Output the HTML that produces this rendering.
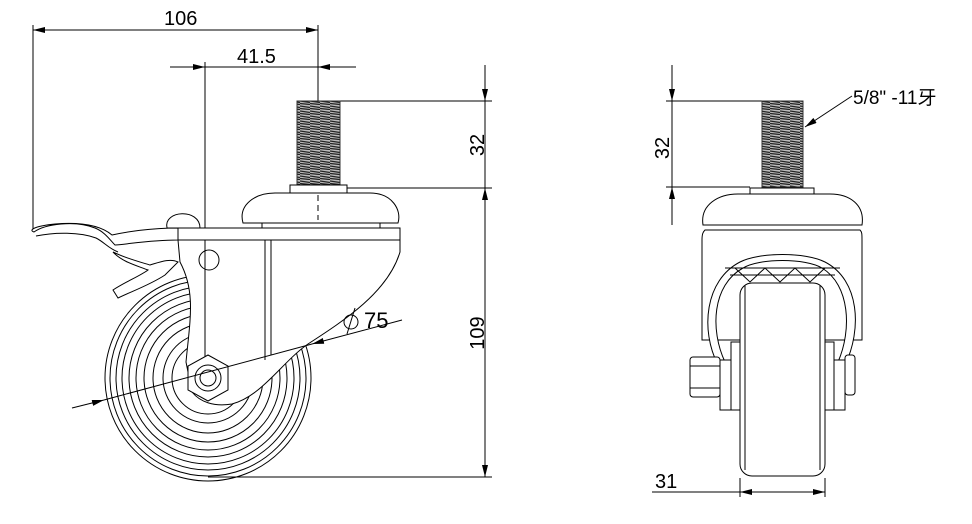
<!DOCTYPE html>
<html><head><meta charset="utf-8"><style>
html,body{margin:0;padding:0;background:#fff;width:972px;height:524px;overflow:hidden}
svg{display:block}
text{font-family:"Liberation Sans","Noto Sans CJK SC",sans-serif;fill:#000}
</style></head><body>
<svg width="972" height="524" viewBox="0 0 972 524" xmlns="http://www.w3.org/2000/svg">
<defs>
<marker id="a" viewBox="0 0 12 6" refX="12" refY="3" markerWidth="12" markerHeight="6" orient="auto-start-reverse" markerUnits="userSpaceOnUse"><path d="M0 0L12 3L0 6Z" fill="#000"/></marker>
<pattern id="thr" width="10" height="5" patternUnits="userSpaceOnUse"><rect width="10" height="5" fill="#bbb"/><path d="M0 1L10 2.5M0 3.5L10 4.5" stroke="#222" stroke-width="1.3"/></pattern>
</defs>
<g fill="none" stroke="#000" stroke-width="1">
<!-- dimension 106 -->
<line x1="33" y1="30" x2="318" y2="30" marker-start="url(#a)" marker-end="url(#a)"/>
<line x1="33" y1="25" x2="33" y2="230"/>
<line x1="318" y1="25" x2="318" y2="220" />
<!-- 41.5 -->
<line x1="170" y1="67" x2="205" y2="67" marker-end="url(#a)"/>
<line x1="205" y1="67" x2="318" y2="67"/>
<line x1="356" y1="67" x2="318" y2="67" marker-end="url(#a)"/>
<line x1="205" y1="62" x2="205" y2="378"/>
<!-- 32 left -->
<line x1="318" y1="101" x2="492" y2="101"/>
<line x1="342" y1="188" x2="492" y2="188"/>
<line x1="485" y1="65" x2="485" y2="101" marker-end="url(#a)"/>
<line x1="485" y1="101" x2="485" y2="188"/>
<line x1="485" y1="188" x2="485" y2="477" marker-start="url(#a)" marker-end="url(#a)"/>
<line x1="208" y1="477" x2="492" y2="477"/>
<!-- wheel left -->
<g stroke-width="1">
<circle cx="208" cy="378" r="103"/><circle cx="208" cy="378" r="98"/><circle cx="208" cy="378" r="92"/>
<circle cx="208" cy="378" r="86"/><circle cx="208" cy="378" r="79"/><circle cx="208" cy="378" r="72"/>
<circle cx="208" cy="378" r="64"/><circle cx="208" cy="378" r="55"/><circle cx="208" cy="378" r="45"/><circle cx="208" cy="378" r="36"/>
</g>
<!-- fork -->
<path fill="#fff" d="M178 240 L400 240 L400 252 C388 292 345 320 308 344 C282 362 262 396 232 404 C214 407 200 402 192 392 L186 362 C190 320 196 292 180 262 Z"/>
<line x1="265" y1="240" x2="265" y2="360"/><line x1="271" y1="240" x2="271" y2="355"/>
<line x1="205" y1="240" x2="205" y2="378"/>
<circle cx="209" cy="260" r="10"/>
<!-- bracket top -->
<rect x="178" y="228" width="222" height="12" fill="#fff"/>
<path fill="#fff" d="M243 223 C238 205 255 193 275 193 L370 193 C392 193 402 210 398 223 Z"/>
<path d="M262 223 L262 228 M380 223 L380 228"/>
<path fill="#fff" d="M167 228 C163 210 200 208 200 228 Z"/>
<!-- brake lever -->
<path fill="#fff" d="M34 232 C45 224 75 220 95 228 C105 232 110 240 115 245 C130 244 150 240 178 240 L178 228 C150 228 125 232 112 235 C100 225 80 222 55 224 C35 226 28 230 34 232 Z"/>
<path d="M36 236 C55 232 80 232 96 238 C104 242 108 248 118 252"/>
<path fill="#fff" d="M113 252 C125 258 140 262 150 265 C160 262 170 258 178 262 L165 275 C150 285 130 292 118 298 L113 290 C125 282 140 276 148 270 C138 266 122 262 113 252 Z"/>
<!-- hub nut -->
<polygon fill="#fff" points="208,355 228,366 228,390 208,401 188,390 188,366"/>
<circle cx="208" cy="378" r="13"/><circle cx="208" cy="378" r="8"/>
<!-- stem -->
<rect x="297" y="101" width="43" height="86" fill="url(#thr)" stroke="#333"/>
<path fill="#fff" d="M290 193 L290 185 L347 185 L347 193 Z"/>
<line x1="318" y1="195" x2="318" y2="220" stroke-dasharray="6 4"/>
<!-- phi 75 -->
<line x1="72" y1="408" x2="104" y2="400" marker-end="url(#a)"/>
<line x1="104" y1="400" x2="312" y2="344"/>
<line x1="402" y1="320" x2="312" y2="344" marker-end="url(#a)"/>
<circle cx="351" cy="322" r="7"/><line x1="347" y1="334" x2="355" y2="308"/>

<!-- RIGHT VIEW -->
<line x1="666" y1="101" x2="768" y2="101"/>
<line x1="666" y1="187" x2="750" y2="187"/>
<line x1="672" y1="65" x2="672" y2="101" marker-end="url(#a)"/>
<line x1="672" y1="101" x2="672" y2="187"/>
<line x1="672" y1="225" x2="672" y2="187" marker-end="url(#a)"/>
<rect x="762" y="101" width="41" height="86" fill="url(#thr)" stroke="#333"/>
<rect x="750" y="188" width="64" height="6" fill="#fff"/>
<path fill="#fff" d="M703 225 C700 205 718 194 738 194 L830 194 C850 194 865 205 862 225 Z"/>
<path fill="#fff" d="M705 230 L860 230 C862 232 862 234 862 240 L862 340 L702 340 L702 240 C702 234 703 232 705 230 Z"/>
<path fill="#fff" d="M718 365 C700 330 705 280 740 262 C760 252 805 252 825 262 C860 280 862 330 845 365 L838 362 C852 330 850 285 822 268 C805 258 760 258 743 268 C712 285 710 330 725 362 Z"/>
<path d="M725 268 L840 268 M730 275 L835 275"/>
<path d="M735 268 L750 282 L765 268 L780 282 L795 268 L810 282 L825 268"/>
<rect x="740" y="283" width="85" height="193" rx="12" fill="#fff"/>
<line x1="745" y1="285" x2="745" y2="470"/><line x1="820" y1="285" x2="820" y2="470"/>
<rect x="731" y="342" width="9" height="68" fill="#fff"/><rect x="825" y="342" width="9" height="68" fill="#fff"/>
<rect x="720" y="360" width="11" height="50" fill="#fff"/><rect x="834" y="360" width="11" height="50" fill="#fff"/>
<rect x="690" y="357" width="30" height="40" rx="3" fill="#fff"/>
<line x1="690" y1="366" x2="720" y2="366"/><line x1="690" y1="388" x2="720" y2="388"/>
<rect x="845" y="355" width="10" height="40" rx="3" fill="#fff"/>
<!-- 31 -->
<line x1="740" y1="478" x2="740" y2="497"/><line x1="825" y1="478" x2="825" y2="497"/>
<line x1="652" y1="492" x2="740" y2="492"/>
<line x1="760" y1="492" x2="740" y2="492" marker-end="url(#a)"/>
<line x1="740" y1="492" x2="825" y2="492"/>
<line x1="805" y1="492" x2="825" y2="492" marker-end="url(#a)"/>
<!-- thread leader -->
<line x1="852" y1="96" x2="805" y2="127" marker-end="url(#a)"/>
</g>
<g font-size="20">
<text x="164" y="25">106</text>
<text x="237" y="63">41.5</text>
<text x="364" y="328" font-size="22">75</text>
<text transform="translate(484,145) rotate(-90)" text-anchor="middle">32</text>
<text transform="translate(484,333) rotate(-90)" text-anchor="middle">109</text>
<text transform="translate(669,148) rotate(-90)" text-anchor="middle">32</text>
<text x="655" y="488">31</text>
</g>
<text x="853" y="104" font-size="19" font-family="'Liberation Serif','Noto Serif CJK SC',serif">5/8" -11牙</text>
</svg>
</body></html>
